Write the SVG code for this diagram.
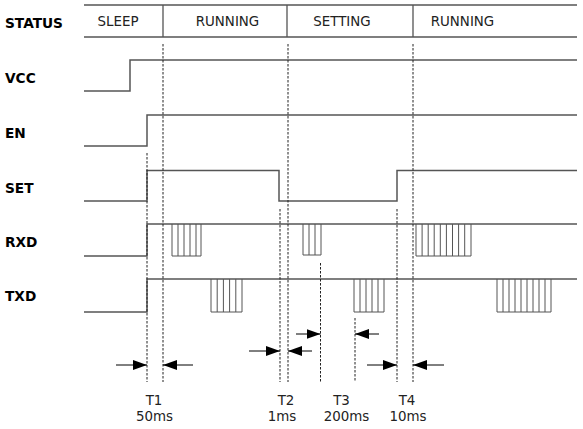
<svg xmlns="http://www.w3.org/2000/svg" width="583" height="429" viewBox="0 0 583 429">
<style>
.lbl{font-family:"DejaVu Sans",Verdana,sans-serif;font-weight:bold;font-size:13.7px;fill:#000}
.st{font-family:"DejaVu Sans",Verdana,sans-serif;font-size:13.4px;fill:#222}
.tm{font-family:"DejaVu Sans",Verdana,sans-serif;font-size:13.4px;fill:#222;text-anchor:middle}
.sig{fill:none;stroke:#555;stroke-width:1.5}
.brst{fill:none;stroke:#555;stroke-width:1}
.grid{fill:none;stroke:#555;stroke-width:1.3}
.dash{fill:none;stroke:#222;stroke-width:1;stroke-dasharray:2.5,1.5}
.arr{fill:none;stroke:#000;stroke-width:1;marker-end:url(#ah)}
</style>
<defs>
<marker id="ah" markerUnits="userSpaceOnUse" markerWidth="14" markerHeight="10" refX="14" refY="5" orient="auto">
<path d="M0,0 L14,5 L0,10 z" fill="#000"/>
</marker>
</defs>
<rect width="583" height="429" fill="#fff"/>
<g id="status">
<text class="lbl" x="5" y="28">STATUS</text>
<path class="grid" d="M84,5 H577 M84,37 H577 M163,5 V37 M287,5 V37 M413,5 V37"/>
<text class="st" x="97.5" y="26">SLEEP</text>
<text class="st" x="227.5" y="26" text-anchor="middle">RUNNING</text>
<text class="st" x="342" y="26" text-anchor="middle">SETTING</text>
<text class="st" x="462.5" y="26" text-anchor="middle">RUNNING</text>
</g>
<g id="vcc">
<text class="lbl" x="5" y="82.5">VCC</text>
<path class="sig" d="M84,91 H130 V60 H577"/>
</g>
<g id="en">
<text class="lbl" x="5" y="137.5">EN</text>
<path class="sig" d="M84,146 H147 V115 H577"/>
</g>
<g id="set">
<text class="lbl" x="5" y="192.5">SET</text>
<path class="sig" d="M84,201 H147 V170.5 H279 V201 H397 V170.5 H577"/>
</g>
<g id="rxd">
<text class="lbl" x="5" y="247">RXD</text>
<path class="sig" d="M84,256 H147 V224 H577"/>
<path class="brst" d="M172,224 V256 H201 V224 M178,224 V256 M184,224 V256 M190,224 V256 M196,224 V256"/>
<path class="brst" d="M303,224 V255 H321 V224 M309,224 V255 M315,224 V255"/>
<path class="brst" d="M416,224 V256 H471 V224 M422.1,224 V256 M428.2,224 V256 M434.2,224 V256 M440.3,224 V256 M446.4,224 V256 M452.5,224 V256 M458.6,224 V256 M464.7,224 V256"/>
</g>
<g id="txd">
<text class="lbl" x="5" y="301">TXD</text>
<path class="sig" d="M84,312 H147 V279 H577"/>
<path class="brst" d="M211,279 V312 H242 V279 M217.2,279 V312 M223.4,279 V312 M229.6,279 V312 M235.8,279 V312"/>
<path class="brst" d="M354,279 V312 H384 V279 M360,279 V312 M366,279 V312 M372,279 V312 M378,279 V312"/>
<path class="brst" d="M497,279 V312 H551 V279 M503,279 V312 M509,279 V312 M515,279 V312 M521,279 V312 M527,279 V312 M533,279 V312 M539,279 V312 M545,279 V312"/>
</g>
<g id="connectors">
<path class="dash" d="M147,153 V382 M163,44 V382 M280,209 V382 M288,44 V382 M320.5,263 V382 M355,318 V382 M397,209 V382 M413,44 V382"/>
<line class="arr" x1="116" y1="365" x2="147" y2="365"/>
<line class="arr" x1="193" y1="365" x2="163" y2="365"/>
<line class="arr" x1="249" y1="351" x2="280" y2="351"/>
<line class="arr" x1="312" y1="351" x2="288" y2="351"/>
<line class="arr" x1="296" y1="334" x2="320.5" y2="334"/>
<line class="arr" x1="379" y1="334" x2="355" y2="334"/>
<line class="arr" x1="367" y1="365" x2="397" y2="365"/>
<line class="arr" x1="444" y1="365" x2="413" y2="365"/>
</g>
<g id="timings">
<text class="tm" x="154" y="405">T1</text>
<text class="tm" x="154.5" y="420.5">50ms</text>
<text class="tm" x="286" y="405">T2</text>
<text class="tm" x="282" y="420.5">1ms</text>
<text class="tm" x="341.5" y="405">T3</text>
<text class="tm" x="346.5" y="420.5">200ms</text>
<text class="tm" x="407" y="405">T4</text>
<text class="tm" x="408" y="420.5">10ms</text>
</g>
</svg>
